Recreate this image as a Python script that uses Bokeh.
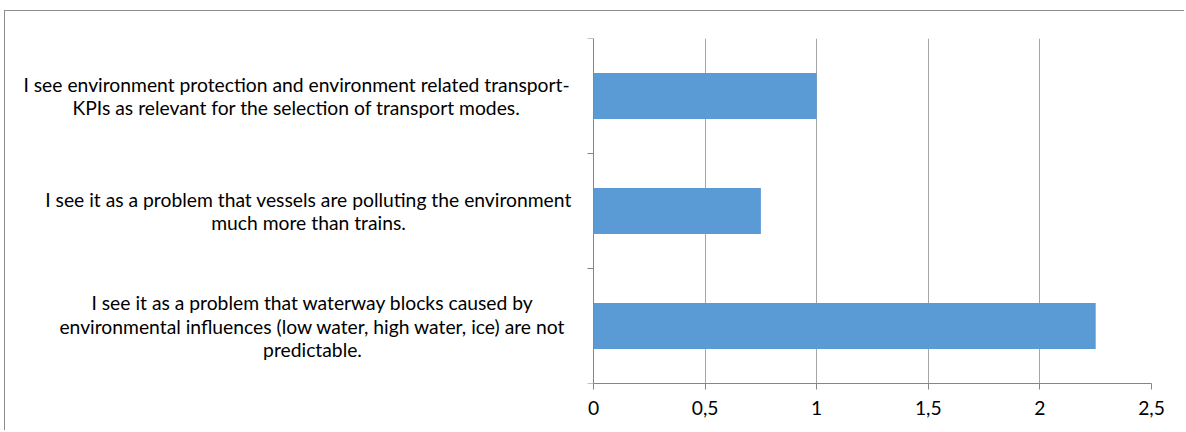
from bokeh.plotting import figure
from bokeh.models import Range1d, FixedTicker, CustomJSTickFormatter, ColumnDataSource
from bokeh.core.properties import value
from bokeh.embed import file_html
from bokeh.resources import INLINE

# Data (top to bottom as shown)
categories = [
    "I see environment protection and environment related transport-\nKPIs as relevant for the selection of transport modes.",
    "I see it as a problem that vessels are polluting the environment\nmuch more than trains.",
    "I see it as a problem that waterway blocks caused by\nenvironmental influences (low water, high water, ice) are not\npredictable.",
]
values = [1.0, 0.75, 2.25]
x_ticks = [0, 0.5, 1, 1.5, 2, 2.5]

# layout (screen pixels): centre of each label block relative to the value axis
label_offsets = [-297, -285, -281]
LINE_STEP = 23.5

FONT = "Lato"
FS = "19.3px"
n = len(categories)
ys = [n - i - 0.5 for i in range(n)]

# frame extends left under the labels; value axis/grid are bounded to 0..2.5
X_MIN = -2.5986

p = figure(width=1180, height=420,
           x_range=Range1d(X_MIN, 2.5), y_range=Range1d(0, n),
           output_backend="svg", toolbar_location=None,
           min_border_left=8, min_border_right=34,
           min_border_top=27, min_border_bottom=48)
p.styles = {"margin-left": "4px", "margin-top": "10px",
            "border-left": "1px solid #8c8c8c", "border-top": "1px solid #8c8c8c"}
p.outline_line_color = None

p.hbar(y=ys, right=values, left=0, height=0.4, color="#5b9bd5", line_color=None)

p.xgrid.ticker = FixedTicker(ticks=x_ticks)
p.xgrid.bounds = (x_ticks[0], x_ticks[-1])
p.xgrid.grid_line_color = "#a6a6a6"
p.ygrid.grid_line_color = None

xa = p.xaxis[0]
xa.ticker = FixedTicker(ticks=x_ticks)
xa.bounds = (x_ticks[0], x_ticks[-1])
xa.formatter = CustomJSTickFormatter(code="return tick.toString().replace('.', ',');")
xa.axis_line_color = "#868686"
xa.major_tick_line_color = "#868686"
xa.major_tick_out = 6
xa.major_tick_in = 0
xa.minor_tick_line_color = None
xa.major_label_text_font = FONT
xa.major_label_text_font_size = FS
xa.major_label_text_color = "black"
xa.major_label_standoff = 11

ya = p.yaxis[0]
ya.fixed_location = 0
ya.ticker = FixedTicker(ticks=list(range(n + 1)))
ya.major_label_overrides = {i: "" for i in range(n + 1)}
ya.axis_line_color = "#868686"
ya.major_tick_line_color = "#868686"
ya.major_tick_out = 6
ya.major_tick_in = 0
ya.minor_tick_line_color = None

# category labels, one text row per wrapped line, centred as a block
lx, ly, lt, lxo, lyo = [], [], [], [], []
for cat, y, off in zip(categories, ys, label_offsets):
    lines = cat.split("\n")
    m = len(lines)
    for j, ln in enumerate(lines):
        lx.append(0)
        ly.append(y)
        lt.append(ln)
        lxo.append(off)
        lyo.append((j - (m - 1) / 2) * LINE_STEP)
src = ColumnDataSource(dict(x=lx, y=ly, text=lt, xo=lxo, yo=lyo))
p.text(x="x", y="y", text="text", x_offset="xo", y_offset="yo", source=src,
       text_align="center", text_baseline="middle",
       text_font=value(FONT), text_font_size=value(FS), text_color="black")

open("out.html", "w").write(file_html(p, INLINE))
